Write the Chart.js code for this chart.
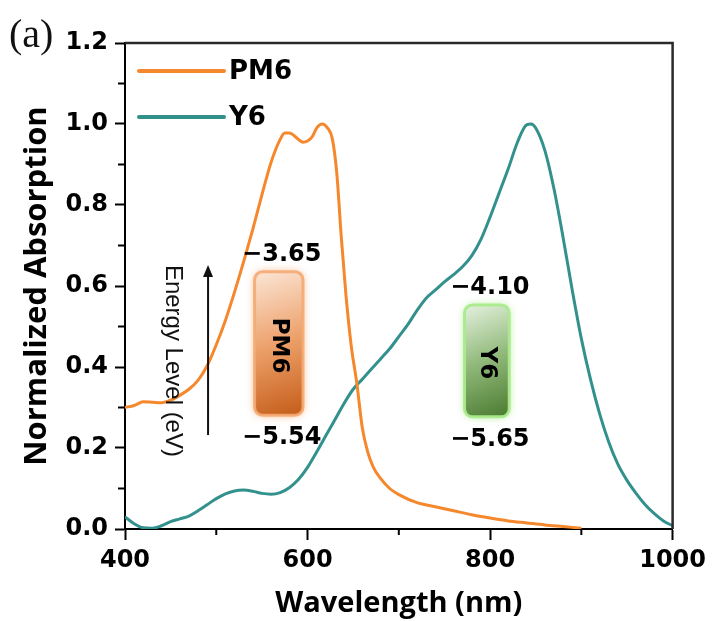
<!DOCTYPE html>
<html>
<head>
<meta charset="utf-8">
<script src="https://cdn.jsdelivr.net/npm/chart.js@4.4.1/dist/chart.umd.min.js"></script>
<style>
  html, body { margin: 0; padding: 0; background: #fff; }
  canvas { display: block; }
</style>
</head>
<body>
<canvas id="abs" width="712" height="621"></canvas>
<script>
// values
const pm6Wavelength = [400, 410, 420, 430, 440, 450, 460, 470, 480, 490, 500, 510, 520, 530, 540, 550, 560, 570, 575, 580, 590, 595, 600, 605, 610, 616, 622, 627, 632, 637, 642, 648, 654, 660, 666, 672, 680, 690, 700, 720, 740, 760, 780, 800, 820, 840, 860, 880, 900];
const pm6Absorption = [0.30, 0.305, 0.314, 0.313, 0.312, 0.318, 0.33, 0.345, 0.367, 0.403, 0.455, 0.515, 0.585, 0.66, 0.74, 0.825, 0.905, 0.962, 0.978, 0.978, 0.962, 0.955, 0.958, 0.968, 0.99, 1.0, 0.99, 0.965, 0.88, 0.72, 0.58, 0.45, 0.36, 0.25, 0.19, 0.153, 0.125, 0.10, 0.085, 0.065, 0.055, 0.045, 0.035, 0.027, 0.02, 0.015, 0.01, 0.006, 0.002];

const y6Wavelength = [400, 410, 420, 430, 440, 450, 460, 470, 480, 490, 500, 510, 520, 530, 540, 550, 560, 570, 580, 590, 600, 610, 620, 630, 640, 650, 660, 670, 680, 690, 700, 710, 720, 730, 740, 750, 760, 770, 780, 790, 800, 810, 820, 830, 840, 845, 850, 860, 870, 880, 890, 900, 910, 920, 930, 940, 950, 960, 970, 980, 990, 1000];
const y6Absorption = [0.03, 0.013, 0.003, 0.002, 0.008, 0.018, 0.025, 0.032, 0.045, 0.06, 0.075, 0.087, 0.094, 0.096, 0.093, 0.088, 0.086, 0.09, 0.102, 0.122, 0.152, 0.19, 0.23, 0.27, 0.31, 0.345, 0.37, 0.395, 0.42, 0.445, 0.475, 0.505, 0.54, 0.57, 0.59, 0.61, 0.628, 0.648, 0.675, 0.715, 0.77, 0.83, 0.89, 0.955, 0.998, 1.0, 0.99, 0.935, 0.84, 0.72, 0.59, 0.47, 0.37, 0.285, 0.215, 0.16, 0.12, 0.088, 0.06, 0.038, 0.02, 0.008];

const seriesNames = ['PM6', 'Y6'];
const seriesColors = ['#f5882c', '#33918d'];

const xTickValues = [400, 600, 800, 1000];
const xTickLabels = ['400', '600', '800', '1000'];
const xMinorTicks = [500, 700, 900];
const yTickValues = [0, 0.2, 0.4, 0.6, 0.8, 1.0, 1.2];
const yTickLabels = ['0.0', '0.2', '0.4', '0.6', '0.8', '1.0', '1.2'];
const yMinorTicks = [0.1, 0.3, 0.5, 0.7, 0.9, 1.1];

// energy level annotation (LUMO / HOMO in eV)
const levels = [
  { name: 'PM6', lumo: '\u22123.65', homo: '\u22125.54', x0: 542, x1: 595, top: 0.635, bottom: 0.281,
    grad: ['#fbe6d6', '#eda06a', '#c45c18'], glow: 'rgba(245,170,115,0.9)' },
  { name: 'Y6', lumo: '\u22124.10', homo: '\u22125.65', x0: 772, x1: 821, top: 0.553, bottom: 0.277,
    grad: ['#e4f1de', '#8fb878', '#4a7a30'], glow: 'rgba(170,235,140,0.95)' }
];

const tickFont = { family: '"DejaVu Sans"', size: 24, weight: 'bold' };

function toPoints(xs, ys) {
  return xs.map((x, i) => ({ x: x, y: ys[i] }));
}

function labelFor(values, labels, v) {
  return labels[values.findIndex(t => Math.abs(t - v) < 1e-6)];
}

// frame, minor ticks, legend, panel label
const decorations = {
  id: 'decorations',
  afterDraw(chart) {
    const ctx = chart.ctx;
    const a = chart.chartArea;
    const xs = chart.scales.x, ys = chart.scales.y;
    ctx.save();
    ctx.strokeStyle = '#2a2a2a';
    ctx.lineWidth = 2.5;
    ctx.beginPath();
    ctx.moveTo(a.left, a.top);
    ctx.lineTo(a.right, a.top);
    ctx.lineTo(a.right, a.bottom);
    ctx.stroke();

    ctx.strokeStyle = '#000';
    ctx.lineWidth = 2;
    xMinorTicks.forEach(v => {
      const px = xs.getPixelForValue(v);
      ctx.beginPath();
      ctx.moveTo(px, a.bottom);
      ctx.lineTo(px, a.bottom + 6);
      ctx.stroke();
    });
    yMinorTicks.forEach(v => {
      const py = ys.getPixelForValue(v);
      ctx.beginPath();
      ctx.moveTo(a.left, py);
      ctx.lineTo(a.left - 7, py);
      ctx.stroke();
    });

    // legend
    ctx.font = 'bold 26px "DejaVu Sans"';
    ctx.textBaseline = 'middle';
    chart.data.datasets.forEach((ds, i) => {
      const y = a.top + 28 + i * 46;
      ctx.strokeStyle = ds.borderColor;
      ctx.lineWidth = 4;
      ctx.lineCap = 'round';
      ctx.beginPath();
      ctx.moveTo(a.left + 14, y);
      ctx.lineTo(a.left + 99, y);
      ctx.stroke();
      ctx.fillStyle = '#000';
      ctx.fillText(ds.label, a.left + 104, y + 1);
    });

    ctx.font = '40px "Liberation Serif"';
    ctx.fillStyle = '#111';
    ctx.textBaseline = 'middle';
    ctx.fillText('(a)', 9, 36);
    ctx.restore();
  }
};

function roundRect(ctx, x, y, w, h, r) {
  ctx.beginPath();
  ctx.moveTo(x + r, y);
  ctx.arcTo(x + w, y, x + w, y + h, r);
  ctx.arcTo(x + w, y + h, x, y + h, r);
  ctx.arcTo(x, y + h, x, y, r);
  ctx.arcTo(x, y, x + w, y, r);
  ctx.closePath();
}

const energyLevels = {
  id: 'energyLevels',
  afterDatasetsDraw(chart) {
    const ctx = chart.ctx;
    const xs = chart.scales.x, ys = chart.scales.y;
    ctx.save();

    // arrow and its caption
    const ax = xs.getPixelForValue(491);
    const ay0 = ys.getPixelForValue(0.232), ay1 = ys.getPixelForValue(0.652);
    ctx.strokeStyle = '#111';
    ctx.fillStyle = '#111';
    ctx.lineWidth = 2;
    ctx.beginPath();
    ctx.moveTo(ax, ay0);
    ctx.lineTo(ax, ay1 + 10);
    ctx.stroke();
    ctx.beginPath();
    ctx.moveTo(ax, ay1);
    ctx.lineTo(ax - 5, ay1 + 12);
    ctx.lineTo(ax + 5, ay1 + 12);
    ctx.closePath();
    ctx.fill();

    ctx.translate(xs.getPixelForValue(452.5), ys.getPixelForValue(0.415));
    ctx.rotate(Math.PI / 2);
    ctx.font = '24px "Liberation Sans"';
    ctx.textAlign = 'center';
    ctx.textBaseline = 'middle';
    ctx.fillText('Energy Level (eV)', 0, 0);
    ctx.setTransform(1, 0, 0, 1, 0, 0);

    levels.forEach(l => {
      const x0 = xs.getPixelForValue(l.x0), x1 = xs.getPixelForValue(l.x1);
      const y0 = ys.getPixelForValue(l.top), y1 = ys.getPixelForValue(l.bottom);
      const cx = (x0 + x1) / 2;
      ctx.save();
      ctx.shadowColor = l.glow;
      ctx.shadowBlur = 8;
      roundRect(ctx, x0, y0, x1 - x0, y1 - y0, 8);
      const g = ctx.createLinearGradient(x0, y0, x1, y1);
      g.addColorStop(0, l.grad[0]);
      g.addColorStop(0.5, l.grad[1]);
      g.addColorStop(1, l.grad[2]);
      ctx.fillStyle = g;
      ctx.fill();
      ctx.shadowBlur = 0;
      ctx.strokeStyle = l.glow;
      ctx.lineWidth = 3;
      ctx.stroke();
      ctx.restore();

      ctx.fillStyle = '#000';
      ctx.font = 'bold 24px "DejaVu Sans"';
      ctx.textAlign = 'center';
      ctx.textBaseline = 'middle';
      ctx.fillText(l.lumo, cx + 3, y0 - 17);
      ctx.fillText(l.homo, cx + 3, y1 + 23);

      ctx.save();
      ctx.translate(cx, (y0 + y1) / 2 + 2);
      ctx.rotate(Math.PI / 2);
      ctx.font = 'bold 23px "DejaVu Sans"';
      ctx.fillText(l.name, 0, 0);
      ctx.restore();
    });
    ctx.restore();
  }
};

new Chart(document.getElementById('abs'), {
  type: 'line',
  data: {
    datasets: [
      { label: seriesNames[0], data: toPoints(pm6Wavelength, pm6Absorption), borderColor: seriesColors[0] },
      { label: seriesNames[1], data: toPoints(y6Wavelength, y6Absorption), borderColor: seriesColors[1] }
    ]
  },
  options: {
    responsive: false,
    devicePixelRatio: 1,
    animation: false,
    events: [],
    layout: { padding: { top: 43, right: 39, left: 0, bottom: 0 } },
    elements: {
      point: { radius: 0 },
      line: { borderWidth: 3, tension: 0.4, cubicInterpolationMode: 'monotone', fill: false }
    },
    plugins: { legend: { display: false }, tooltip: { enabled: false } },
    scales: {
      x: {
        type: 'linear', min: 400, max: 1000,
        afterBuildTicks: s => { s.ticks = xTickValues.map(v => ({ value: v })); },
        afterFit: s => { s.height = 92; },
        grid: { drawOnChartArea: false, drawTicks: true, tickLength: 11, tickColor: '#000', tickWidth: 2 },
        border: { display: true, color: '#000', width: 2 },
        ticks: { color: '#000', font: tickFont, padding: 6, maxRotation: 0,
          callback: v => labelFor(xTickValues, xTickLabels, v) },
        title: { display: true, text: 'Wavelength (nm)', color: '#000',
          font: { family: '"Open Sans"', size: 29, weight: 'bold' }, padding: { top: 0, bottom: 0 } }
      },
      y: {
        type: 'linear', min: 0, max: 1.2,
        afterBuildTicks: s => { s.ticks = yTickValues.map(v => ({ value: v })); },
        afterFit: s => { s.width = 125; },
        grid: { drawOnChartArea: false, drawTicks: true, tickLength: 10, tickColor: '#000', tickWidth: 2 },
        border: { display: true, color: '#000', width: 2 },
        ticks: { color: '#000', font: tickFont, padding: 7,
          callback: v => labelFor(yTickValues, yTickLabels, v) },
        title: { display: true, text: 'Normalized Absorption', color: '#000',
          font: { family: '"Open Sans"', size: 31, weight: 'bold' }, padding: { top: 19, bottom: 0 } }
      }
    }
  },
  plugins: [energyLevels, decorations]
});
</script>
</body>
</html>
